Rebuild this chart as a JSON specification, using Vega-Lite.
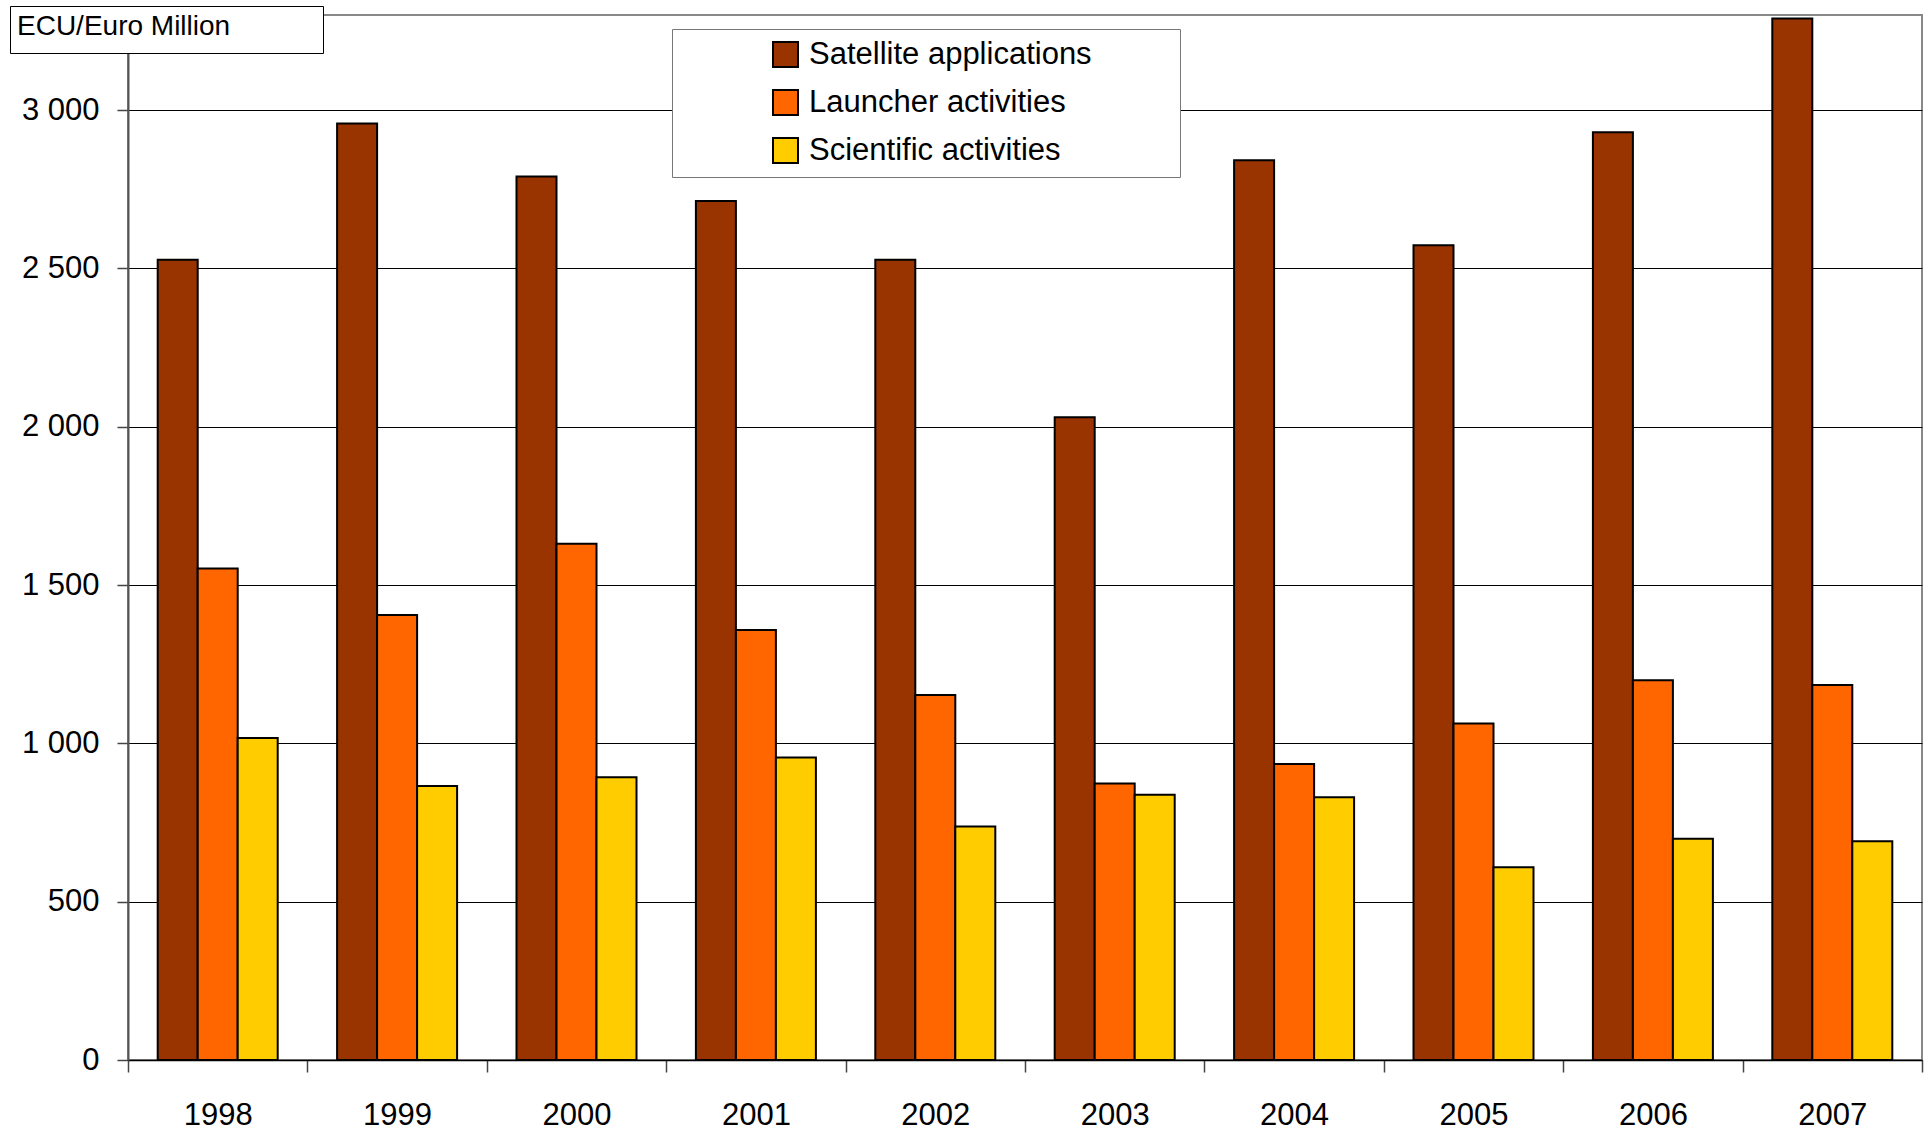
{
  "$schema": "https://vega.github.io/schema/vega-lite/v6.json",
  "width": 1794,
  "height": 1045,
  "autosize": {"type": "none"},
  "padding": {"left": 128, "top": 15, "right": 5, "bottom": 74},
  "background": "white",
  "data": {
    "values": [
      {"year": "1998", "series": "Satellite applications", "value": 2527},
      {"year": "1998", "series": "Launcher activities", "value": 1552},
      {"year": "1998", "series": "Scientific activities", "value": 1017},
      {"year": "1999", "series": "Satellite applications", "value": 2957},
      {"year": "1999", "series": "Launcher activities", "value": 1405},
      {"year": "1999", "series": "Scientific activities", "value": 865},
      {"year": "2000", "series": "Satellite applications", "value": 2790},
      {"year": "2000", "series": "Launcher activities", "value": 1630},
      {"year": "2000", "series": "Scientific activities", "value": 893},
      {"year": "2001", "series": "Satellite applications", "value": 2713},
      {"year": "2001", "series": "Launcher activities", "value": 1358},
      {"year": "2001", "series": "Scientific activities", "value": 955},
      {"year": "2002", "series": "Satellite applications", "value": 2527},
      {"year": "2002", "series": "Launcher activities", "value": 1153},
      {"year": "2002", "series": "Scientific activities", "value": 737},
      {"year": "2003", "series": "Satellite applications", "value": 2030},
      {"year": "2003", "series": "Launcher activities", "value": 873},
      {"year": "2003", "series": "Scientific activities", "value": 838},
      {"year": "2004", "series": "Satellite applications", "value": 2841},
      {"year": "2004", "series": "Launcher activities", "value": 935},
      {"year": "2004", "series": "Scientific activities", "value": 830},
      {"year": "2005", "series": "Satellite applications", "value": 2573},
      {"year": "2005", "series": "Launcher activities", "value": 1063},
      {"year": "2005", "series": "Scientific activities", "value": 609},
      {"year": "2006", "series": "Satellite applications", "value": 2930},
      {"year": "2006", "series": "Launcher activities", "value": 1199},
      {"year": "2006", "series": "Scientific activities", "value": 699},
      {"year": "2007", "series": "Satellite applications", "value": 3289},
      {"year": "2007", "series": "Launcher activities", "value": 1184},
      {"year": "2007", "series": "Scientific activities", "value": 691}
    ]
  },
  "layer": [
    {
      "mark": {"type": "bar", "stroke": "black", "strokeWidth": 2},
      "encoding": {
        "x": {
          "field": "year",
          "type": "nominal",
          "scale": {"paddingInner": 0, "paddingOuter": 0},
          "axis": {
            "title": null,
            "labelAngle": 0,
            "labelFontSize": 31,
            "labelColor": "black",
            "labelPadding": 28,
            "tickBand": "extent",
            "tickSize": 12,
            "tickColor": "#444",
            "tickWidth": 1.5,
            "domainColor": "black",
            "domainWidth": 1.5
          }
        },
        "xOffset": {
          "field": "series",
          "sort": ["Satellite applications", "Launcher activities", "Scientific activities"],
          "scale": {"paddingInner": 0, "paddingOuter": 0.7425}
        },
        "y": {
          "field": "value",
          "type": "quantitative",
          "scale": {"domain": [0, 3300], "nice": false},
          "axis": {
            "title": null,
            "values": [0, 500, 1000, 1500, 2000, 2500, 3000],
            "labelExpr": "replace(format(datum.value, ','), ',', ' ')",
            "labelFontSize": 31,
            "labelColor": "black",
            "labelPadding": 18,
            "tickSize": 11,
            "tickColor": "#444",
            "tickWidth": 1.5,
            "domainColor": "#555",
            "domainWidth": 2,
            "grid": true,
            "gridColor": "black",
            "gridWidth": 1
          }
        },
        "color": {
          "field": "series",
          "type": "nominal",
          "scale": {
            "domain": ["Satellite applications", "Launcher activities", "Scientific activities"],
            "range": ["#993300", "#FF6600", "#FFCC00"]
          },
          "legend": {
            "title": null,
            "orient": "none",
            "legendX": 544,
            "legendY": 14,
            "fillColor": "white",
            "strokeColor": "#777",
            "padding": 10,
            "symbolType": "square",
            "symbolSize": 625,
            "symbolStrokeColor": "black",
            "symbolStrokeWidth": 2,
            "symbolOffset": 88,
            "labelOffset": 8,
            "labelFontSize": 31,
            "labelColor": "black",
            "labelLimit": 700,
            "labelExpr": "datum.label + '\u00a0\u00a0\u00a0\u00a0\u00a0\u00a0\u00a0\u00a0\u00a0\u200b'",
            "rowPadding": 15
          }
        }
      }
    },
    {
      "mark": {"type": "point", "opacity": 0},
      "encoding": {
        "shape": {
          "datum": "ECU",
          "legend": {
            "title": "ECU/Euro Million\u00a0\u00a0\u00a0\u00a0\u00a0\u00a0\u00a0\u00a0\u00a0\u00a0\u00a0\u200b",
            "orient": "none",
            "legendX": -118,
            "legendY": -9,
            "fillColor": "white",
            "strokeColor": "black",
            "padding": 7,
            "titleFontSize": 28,
            "titleFontWeight": "normal",
            "titleColor": "black",
            "titlePadding": 0,
            "titleLimit": 1000,
            "labelExpr": "''",
            "labelFontSize": 0,
            "symbolSize": 0,
            "symbolOpacity": 0,
            "symbolStrokeWidth": 0
          }
        }
      }
    }
  ],
  "config": {
    "font": "Liberation Sans",
    "view": {"fill": "#FFFFCC", "stroke": "#888888", "strokeWidth": 2}
  }
}
